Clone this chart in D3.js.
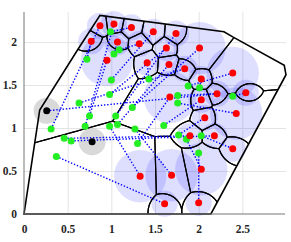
<!DOCTYPE html>
<html>
<head>
<meta charset="utf-8">
<script src="https://cdn.jsdelivr.net/npm/d3@7"></script>
<style>
  body { margin: 0; background: #fff; }
  .tick text { font-family: "Liberation Serif", serif; font-weight: bold; font-size: 11.5px; fill: #262626; }
</style>
</head>
<body>
<svg class="chart"></svg>
<script>
const width = 291,
  height = 242;

// agents (red) and their sensing radius
const redX = [0.87, 1.03, 1.23, 0.77, 1.07, 1.32, 0.95, 1.41, 1.48, 1.74, 1.63, 2.01, 1.66, 1.84, 2.39,
  2.03, 2.21, 2.54, 1.67, 2.03, 2.43, 2.07, 1.90, 2.18, 2.39, 2.03, 1.69, 1.33, 1.61, 2.00];
const redY = [2.19, 2.21, 2.17, 2.01, 2.00, 1.98, 1.79, 1.76, 2.12, 2.10, 1.93, 1.93, 1.74, 1.69, 1.64,
  1.57, 1.40, 1.41, 1.36, 1.33, 1.17, 1.12, 0.91, 0.91, 0.76, 0.52, 0.45, 0.44, 0.12, 0.13];
const redR = [0.15, 0.15, 0.15, 0.15, 0.15, 0.15, 0.3, 0.15, 0.15, 0.15, 0.15, 0.3, 0.15, 0.15, 0.3,
  0.15, 0.15, 0.15, 0.3, 0.15, 0.3, 0.15, 0.15, 0.15, 0.15, 0.3, 0.3, 0.3, 0.15, 0.15];

// targets (green)
const greenX = [0.99, 0.72, 1.09, 1.03, 1.00, 0.98, 0.63, 0.75, 1.05, 1.24, 1.43, 1.88, 2.01, 1.76, 1.76,
  2.39, 0.31, 0.46, 0.54, 0.70, 0.98, 1.07, 1.27, 1.30, 0.37, 1.60, 1.77, 1.86, 2.03, 2.00];
const greenY = [2.12, 1.80, 1.91, 1.86, 1.56, 1.39, 1.29, 1.14, 1.14, 1.24, 1.57, 1.49, 1.47, 1.38, 1.29,
  1.37, 0.99, 0.88, 0.85, 1.02, 1.02, 1.04, 0.99, 0.82, 0.67, 1.03, 0.92, 0.87, 0.91, 0.71];
// red index each green is linked to
const linkRed = [2, 3, 5, 4, 8, 10, 13, 6, 9, 11, 7, 14, 15, 16, 20, 17, 0, 22, 23, 1, 27, 12, 26, 18, 28,
  19, 21, 25, 24, 29];

// obstacles (black)
const blackX = [0.26, 0.78];
const blackY = [1.20, 0.84];
const blackR = [0.15, 0.155];
const blackLinkFrom = [0];
const blackLinkTo = [16];

// domain boundary
const boundaryX = [0, 2.14, 3.0, 2.98, 2.39, 2.29, 0.87, 0.62, 0.18];
const boundaryY = [0, 0, 1.62, 1.73, 2.06, 2.12, 2.31, 1.92, 1.21];

const xTicks = [0, 0.5, 1, 1.5, 2, 2.5];
const yTicks = [0, 0.5, 1, 1.5, 2];

let x = d3.scaleLinear().domain([0, 3]).range([24, 286]);
let y = d3.scaleLinear().domain([0, 2.35]).range([214, 12]);

let chart = d3.select(".chart")
  .attr("width", width)
  .attr("height", height);

// grid
chart.append("g")
  .attr("transform", "translate(0,214)")
  .call(d3.axisBottom(x).tickValues(xTicks.slice(1)).tickSize(-202).tickFormat(""))
  .call(g => g.select(".domain").remove())
  .selectAll("line").attr("stroke", "#e4e4e4");
chart.append("g")
  .attr("transform", "translate(24,0)")
  .call(d3.axisLeft(y).tickValues(yTicks.slice(1)).tickSize(-262).tickFormat(""))
  .call(g => g.select(".domain").remove())
  .selectAll("line").attr("stroke", "#e4e4e4");

// sensing discs
chart.append("g").selectAll("circle")
  .data(d3.range(redX.length))
  .join("circle")
  .attr("cx", i => x(redX[i]))
  .attr("cy", i => y(redY[i]))
  .attr("r", i => x(redR[i]) - x(0))
  .attr("fill", "#0000ff")
  .attr("fill-opacity", 0.13);

chart.append("g").selectAll("circle")
  .data(d3.range(blackX.length))
  .join("circle")
  .attr("cx", i => x(blackX[i]))
  .attr("cy", i => y(blackY[i]))
  .attr("r", i => x(blackR[i]) - x(0))
  .attr("fill", "#808080")
  .attr("fill-opacity", 0.3);

// weighted voronoi partition, sampled on a grid and traced with d3.contours
const step = 0.005, gx0 = -0.05, gy0 = -0.05;
const nx = Math.ceil((3.15 - gx0) / step), ny = Math.ceil((2.5 - gy0) / step);
const n = nx * ny;
const best = new Float32Array(n).fill(Infinity),
  second = new Float32Array(n).fill(Infinity),
  label = new Int16Array(n);
for (let j = 0; j < ny; j++) {
  const py = gy0 + j * step;
  for (let i = 0; i < nx; i++) {
    const px = gx0 + i * step, idx = j * nx + i;
    for (let k = 0; k < redX.length; k++) {
      const dx = px - redX[k], dy = py - redY[k];
      const d = Math.sqrt(dx * dx + dy * dy) / redR[k];
      if (d < best[idx]) { second[idx] = best[idx]; best[idx] = d; label[idx] = k; }
      else if (d < second[idx]) second[idx] = d;
    }
  }
}

const toPx = d3.geoTransform({
  point(gx, gy) {
    this.stream.point(x(gx0 + (gx - 0.5) * step), y(gy0 + (gy - 0.5) * step));
  }
});
const cellPath = d3.geoPath(toPx);
const contours = d3.contours().size([nx, ny]).thresholds([0]);

const boundaryPts = boundaryX.map((d, i) => [x(d), y(boundaryY[i])]);
chart.append("clipPath").attr("id", "dom")
  .append("path").attr("d", d3.line()(boundaryPts) + "Z");

let cells = chart.append("g").attr("clip-path", "url(#dom)");
const vals = new Float32Array(n);
for (let k = 0; k < redX.length; k++) {
  for (let j = 0; j < ny; j++) {
    const py = gy0 + j * step;
    for (let i = 0; i < nx; i++) {
      const idx = j * nx + i;
      if (label[idx] === k) vals[idx] = second[idx] - best[idx];
      else {
        const dx = gx0 + i * step - redX[k], dy = py - redY[k];
        vals[idx] = best[idx] - Math.sqrt(dx * dx + dy * dy) / redR[k];
      }
    }
  }
  cells.append("path")
    .attr("d", cellPath(contours(vals)[0]))
    .attr("fill", "none")
    .attr("stroke", "#000")
    .attr("stroke-width", 1.2)
    .attr("stroke-linejoin", "round");
}

chart.append("path")
  .attr("d", d3.line()(boundaryPts) + "Z")
  .attr("fill", "none")
  .attr("stroke", "#000")
  .attr("stroke-width", 1.6);

// axes
chart.append("g")
  .attr("transform", "translate(0,214)")
  .call(d3.axisBottom(x).tickValues(xTicks).tickSize(0).tickPadding(11).tickFormat(d => d))
  .call(g => g.select(".domain").attr("stroke", "#777").attr("d", "M24,0H285"));
chart.append("g")
  .attr("transform", "translate(24,0)")
  .call(d3.axisLeft(y).tickValues(yTicks).tickSize(0).tickPadding(7).tickFormat(d => d))
  .call(g => g.select(".domain").attr("stroke", "#777").attr("d", "M0,214V12"));

// assignment lines
let links = chart.append("g")
  .attr("stroke", "#0000ff")
  .attr("stroke-width", 1.4)
  .attr("stroke-dasharray", "1.4 1.8");
links.selectAll(".g")
  .data(d3.range(greenX.length))
  .join("line")
  .attr("x1", i => x(greenX[i]))
  .attr("y1", i => y(greenY[i]))
  .attr("x2", i => x(redX[linkRed[i]]))
  .attr("y2", i => y(redY[linkRed[i]]));
links.selectAll(".b")
  .data(d3.range(blackLinkFrom.length))
  .join("line")
  .attr("x1", i => x(blackX[blackLinkFrom[i]]))
  .attr("y1", i => y(blackY[blackLinkFrom[i]]))
  .attr("x2", i => x(redX[blackLinkTo[i]]))
  .attr("y2", i => y(redY[blackLinkTo[i]]));

// points
const dot = (xs, ys, color) => chart.append("g").selectAll("circle")
  .data(d3.range(xs.length))
  .join("circle")
  .attr("cx", i => x(xs[i]))
  .attr("cy", i => y(ys[i]))
  .attr("r", 3.5)
  .attr("fill", color);
dot(greenX, greenY, "#22ee22");
dot(redX, redY, "#ff0000");
dot(blackX, blackY, "#000");
</script>
</body>
</html>
